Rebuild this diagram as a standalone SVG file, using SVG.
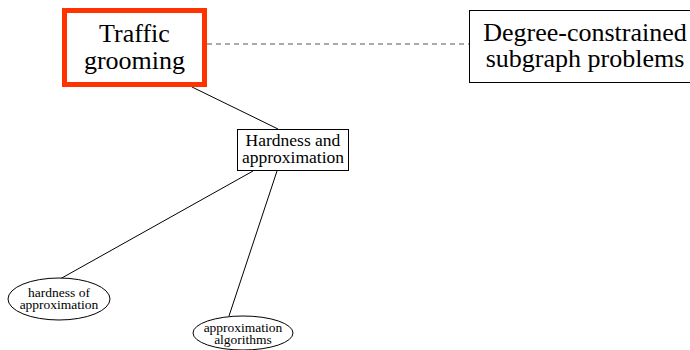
<svg xmlns="http://www.w3.org/2000/svg" width="690" height="350" viewBox="0 0 690 350">
  <style>
    .lbl { fill: #000; text-anchor: middle; }
    .big { font-size: 26px; }
    .mid { font-size: 17.5px; }
    .small { font-size: 13.5px; }
    .box { fill: #fff; stroke: #000; stroke-width: 1; }
    .edge { fill: none; stroke: #000; stroke-width: 1; }
    .dash { fill: none; stroke: #555; stroke-width: 1; stroke-dasharray: 5 4; }
  </style>
  <rect width="690" height="350" fill="#fff"/>

  <!-- connectors -->
  <g id="edges">
    <line class="dash" x1="207" y1="44" x2="469" y2="44"/>
    <line class="edge" x1="192" y1="87" x2="278" y2="129"/>
    <line class="edge" x1="253" y1="171" x2="60" y2="279"/>
    <line class="edge" x1="277" y1="171" x2="229" y2="316"/>
  </g>

  <g font-family="Liberation Serif, DejaVu Serif, serif">
    <g id="traffic-grooming">
      <rect x="64.5" y="10.5" width="140" height="74" fill="#fff" stroke="#ff3300" stroke-width="5"/>
      <text class="lbl big" x="134.5" y="42">Traffic</text>
      <text class="lbl big" x="134.5" y="69">grooming</text>
    </g>

    <g id="degree-constrained">
      <rect class="box" x="469.5" y="10.5" width="230" height="72"/>
      <text class="lbl big" x="585" y="41">Degree-constrained</text>
      <text class="lbl big" x="585" y="67">subgraph problems</text>
    </g>

    <g id="hardness-approximation">
      <rect class="box" x="237.5" y="129.5" width="111" height="41"/>
      <text class="lbl mid" x="293" y="146">Hardness and</text>
      <text class="lbl mid" x="293" y="163">approximation</text>
    </g>

    <g id="hardness-of-approximation">
      <ellipse class="box" cx="59" cy="299" rx="51" ry="21"/>
      <text class="lbl small" x="59" y="297">hardness of</text>
      <text class="lbl small" x="59" y="309">approximation</text>
    </g>

    <g id="approximation-algorithms">
      <ellipse class="box" cx="243" cy="333" rx="50" ry="17"/>
      <text class="lbl small" x="243" y="332">approximation</text>
      <text class="lbl small" x="243" y="344">algorithms</text>
    </g>
  </g>
</svg>
